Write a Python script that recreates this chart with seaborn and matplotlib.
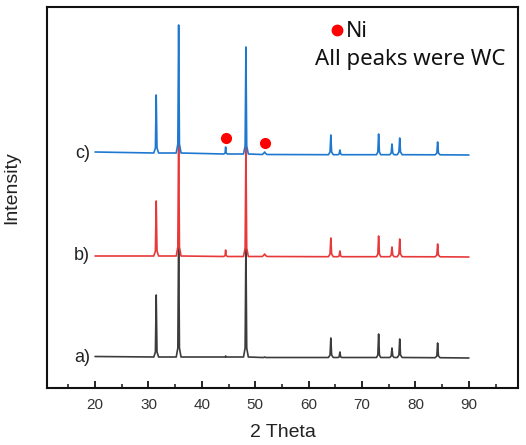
import matplotlib
matplotlib.use("Agg")
import matplotlib.pyplot as plt
from matplotlib.ticker import MultipleLocator
import seaborn as sns
import pandas as pd

# ---- data (arbitrary intensity units) ----
two_theta = [
    20.0,
    31.0, 31.3, 31.45, 31.6, 31.9,
    35.2, 35.5, 35.65, 35.8, 36.1,
    44.1, 44.35, 44.45, 44.55, 44.8,
    47.8, 48.1, 48.25, 48.4, 48.7,
    51.3, 51.55, 51.75, 51.95, 52.2,
    63.7, 64.0, 64.15, 64.3, 64.6,
    65.5, 65.7, 65.85, 66.0, 66.2,
    72.7, 72.95, 73.1, 73.25, 73.5,
    75.2, 75.45, 75.6, 75.75, 76.0,
    76.6, 76.9, 77.05, 77.2, 77.5,
    83.7, 84.0, 84.15, 84.3, 84.6,
    90.0,
]
intensity_a = [
    1.5,
    1, 6, 63, 6, 1,
    1, 10, 125, 10, 1,
    1, 1, 2, 1, 1,
    1, 10, 115, 10, 1,
    0.5, 0.5, 1, 0.5, 0.5,
    0.5, 3, 20, 3, 0.5,
    0.5, 1, 6, 1, 0.5,
    0.5, 3, 24, 3, 0.5,
    0.5, 2, 10, 2, 0.5,
    0.5, 3, 19, 3, 0.5,
    0.3, 2, 15, 2, 0.3,
    0,
]
intensity_b = [
    1,
    1, 6, 56, 6, 1,
    1, 10, 124, 10, 1,
    0.5, 1.5, 7, 1.5, 0.5,
    0.5, 9, 110, 9, 0.5,
    0.5, 1.5, 3, 1.5, 0.5,
    0.3, 3, 19, 3, 0.3,
    0.3, 1, 6, 1, 0.3,
    0.3, 3, 21, 3, 0.3,
    0.3, 2, 10, 2, 0.3,
    0.3, 3, 18, 3, 0.3,
    0.2, 2, 13, 2, 0.2,
    0,
]
intensity_c = [
    3,
    2, 7, 60, 7, 2,
    2, 11, 130, 11, 2,
    1, 2, 8, 2, 1,
    1, 9, 108, 9, 1,
    0.5, 1.5, 3, 1.5, 0.5,
    0.3, 3, 20, 3, 0.3,
    0.3, 1, 5, 1, 0.3,
    0.3, 3, 21, 3, 0.3,
    0.3, 2, 11, 2, 0.3,
    0.3, 3, 17, 3, 0.3,
    0.2, 2, 13, 2, 0.2,
    0,
]
series_labels = ["a)", "b)", "c)"]
series_offsets = [30, 131, 233]
ni_peaks_theta = [44.45, 51.8]
ni_marker_level = [250, 245]
x_ticks = [20, 30, 40, 50, 60, 70, 80, 90]

colors = ["#3c3c3c", "#e8393a", "#1e78d0"]

# ---- figure ----
sns.set_theme(style="ticks")
plt.rcParams["font.family"] = ["Liberation Sans", "DejaVu Sans"]

fig = plt.figure(figsize=(5.26, 4.45), dpi=100)
ax = fig.add_axes([47 / 526, 57 / 445, 471 / 526, 381 / 445])

series = [intensity_a, intensity_b, intensity_c]
for lab, vals, off, col in zip(series_labels, series, series_offsets, colors):
    df = pd.DataFrame({"two_theta": two_theta,
                       "intensity": [v + off for v in vals]})
    sns.lineplot(data=df, x="two_theta", y="intensity", ax=ax, color=col,
                 linewidth=1.2, sort=False, estimator=None)
    ax.text(19.1, off + 1, lab, ha="right", va="center", fontsize=13,
            color="#222222")

ax.plot(ni_peaks_theta, ni_marker_level, "o", color="#ff0000",
        markersize=7, linestyle="none")

ax.set_xlim(11, 99.2)
ax.set_ylim(0, 381)
ax.xaxis.set_major_locator(MultipleLocator(10))
ax.xaxis.set_minor_locator(MultipleLocator(5))
ax.set_xticks(x_ticks)
ax.set_yticks([])
ax.tick_params(axis="x", which="major", direction="in", length=5, width=1.2,
               labelsize=11, pad=7, colors="#000000", labelcolor="#333333")
ax.tick_params(axis="x", which="minor", direction="in", length=3, width=1.2)
for s in ax.spines.values():
    s.set_linewidth(1.5)
    s.set_color("#111111")
    s.set_visible(True)

ax.set_xlabel("2 Theta", fontsize=14, color="#222222", labelpad=9)
ax.set_ylabel("Intensity", fontsize=14, color="#222222")
ax.yaxis.set_label_coords(-0.056, 0.525)

# legend-like annotation
ax.plot([0.616], [0.94], "o", color="#ff0000", markersize=7.5,
        transform=ax.transAxes)
ax.text(0.634, 0.937, "Ni", transform=ax.transAxes, ha="left", va="center",
        fontsize=15.5, family=["Noto Sans", "DejaVu Sans"], color="#111111")
ax.text(0.771, 0.862, "All peaks were WC", transform=ax.transAxes,
        ha="center", va="center", fontsize=16,
        family=["Noto Sans", "DejaVu Sans"], color="#111111")

fig.savefig("out.png", dpi=100)
